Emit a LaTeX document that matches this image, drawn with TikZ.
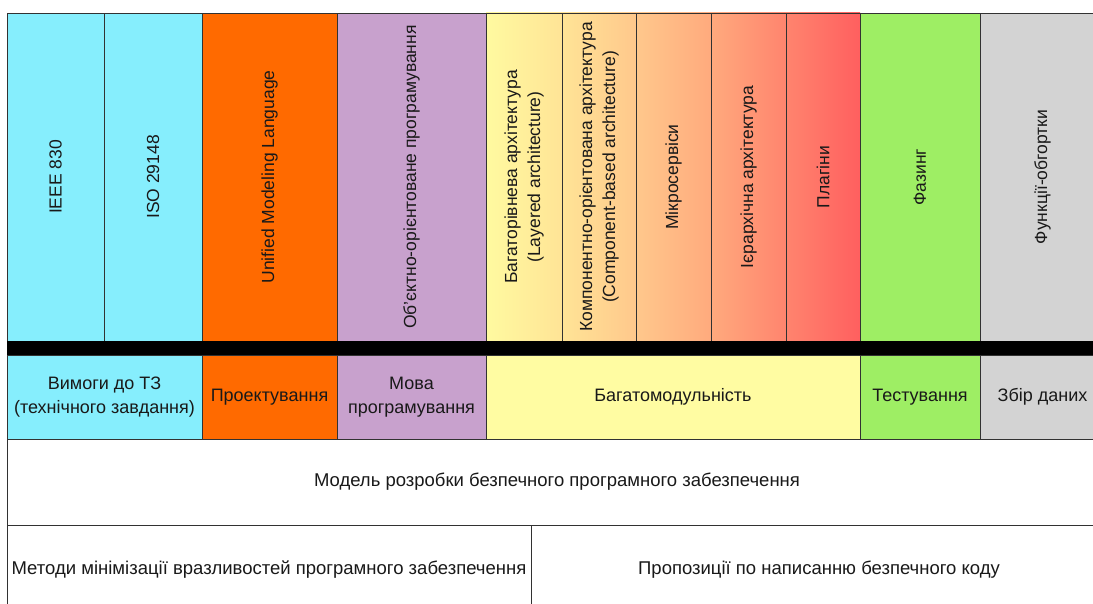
\documentclass[tikz,border=0pt]{standalone}
\usepackage{fontspec}
\setmainfont{Liberation Sans}
\usetikzlibrary{positioning}

\definecolor{reqcyan}{RGB}{134,238,253}
\definecolor{umlorange}{RGB}{255,106,0}
\definecolor{langviolet}{RGB}{200,161,205}
\definecolor{modyellow}{RGB}{255,252,162}
\definecolor{testgreen}{RGB}{158,238,100}
\definecolor{datagray}{RGB}{211,211,211}
\definecolor{archA}{RGB}{255,250,160}
\definecolor{archB}{RGB}{255,228,150}
\definecolor{archC}{RGB}{255,200,140}
\definecolor{archD}{RGB}{255,170,125}
\definecolor{archE}{RGB}{255,132,110}
\definecolor{archF}{RGB}{255,95,95}
\definecolor{rule}{RGB}{50,50,50}

\begin{document}
\begin{tikzpicture}[x=1pt, y=-1pt]
\tikzstyle{cell} = [rectangle, draw=rule, line width=0.9pt, anchor=north west,
  inner sep=0pt, outer sep=0pt, minimum height=328pt]
\tikzstyle{band} = [rectangle, draw=rule, line width=0.9pt, anchor=north west,
  inner sep=2pt, outer sep=0pt, minimum height=84pt, align=center,
  font=\fontsize{18}{24}\selectfont, text=black!90]
\tikzstyle{vtext} = [rotate=90, align=center, font=\fontsize{17.5}{23}\selectfont,
  text=black!90]
\tikzstyle{wide} = [rectangle, draw=rule, line width=0.9pt, anchor=north west,
  fill=white, inner sep=0pt, outer sep=0pt, align=center,
  font=\fontsize{18.5}{24}\selectfont, text=black!90]

    \useasboundingbox (0,0) rectangle (1093,604);
    \clip (0,0) rectangle (1093,604);

    % top row of columns
    \node[cell, fill=reqcyan, minimum width=97pt] (ieee) at (7,13) {};
    \node[cell, fill=reqcyan, minimum width=98pt, right=0pt of ieee] (iso) {};
    \node[cell, fill=umlorange, minimum width=135pt, right=0pt of iso] (uml) {};
    \node[cell, fill=langviolet, minimum width=149pt, right=0pt of uml] (oop) {};
    \node[cell, left color=archA, right color=archB, minimum width=76pt,
      right=0pt of oop] (layered) {};
    \node[cell, left color=archB, right color=archC, minimum width=74pt,
      right=0pt of layered] (component) {};
    \node[cell, left color=archC, right color=archD, minimum width=75pt,
      right=0pt of component] (micro) {};
    \node[cell, left color=archD, right color=archE, minimum width=75pt,
      right=0pt of micro] (hier) {};
    \node[cell, left color=archE, right color=archF, minimum width=74pt,
      right=0pt of hier] (plugins) {};
    \node[cell, fill=testgreen, minimum width=120pt, right=0pt of plugins] (fuzz) {};
    \node[cell, fill=datagray, minimum width=125pt, right=0pt of fuzz] (wrap) {};

    \node[vtext] at (ieee) {IEEE 830};
    \node[vtext] at (iso) {ISO 29148};
    \node[vtext] at (uml) {Unified Modeling Language};
    \node[vtext] at (oop) {Об'єктно-орієнтоване програмування};
    \node[vtext] at (layered) {Багаторівнева архітектура\\(Layered architecture)};
    \node[vtext] at (component) {Компонентно-орієнтована архітектура\\(Component-based architecture)};
    \node[vtext] at (micro) {Мікросервіси};
    \node[vtext] at (hier) {Ієрархічна архітектура};
    \node[vtext] at (plugins) {Плагіни};
    \node[vtext] at (fuzz) {Фазинг};
    \node[vtext] at (wrap) {Функції-обгортки};

    % separator
    \node[rectangle, fill=black, anchor=north west, inner sep=0pt, outer sep=0pt,
      minimum width=1093pt, minimum height=14pt] (bar) at (ieee.south west) {};

    % stages
    \node[band, fill=reqcyan, minimum width=195pt] (req) at (bar.south west)
      {Вимоги до ТЗ\\(технічного завдання)};
    \node[band, fill=umlorange, minimum width=135pt, right=0pt of req] (design)
      {Проектування};
    \node[band, fill=langviolet, minimum width=149pt, right=0pt of design] (lang)
      {Мова\\програмування};
    \node[band, fill=modyellow, minimum width=374pt, right=0pt of lang] (modular)
      {Багатомодульність};
    \node[band, fill=testgreen, minimum width=120pt, right=0pt of modular] (test)
      {Тестування};
    \node[band, fill=datagray, minimum width=125pt, right=0pt of test] (data)
      {Збір даних};

    % model and its two parts
    \node[wide, minimum width=1100pt, minimum height=86pt] (model) at (req.south west)
      {Модель розробки безпечного програмного забезпечення};
    \node[wide, minimum width=524pt, minimum height=90pt] (methods) at (model.south west)
      {Методи мінімізації вразливостей програмного забезпечення};
    \node[wide, minimum width=576pt, minimum height=90pt, anchor=north west]
      (advice) at (methods.north east)
      {Пропозиції по написанню безпечного коду};
\end{tikzpicture}
\end{document}
